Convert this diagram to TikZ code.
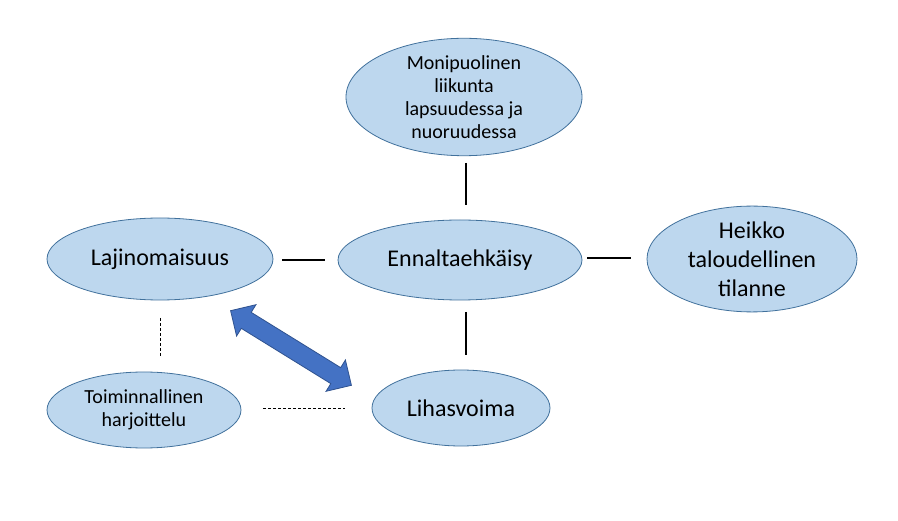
\documentclass[tikz,border=0pt]{standalone}
\usepackage{fontspec}
\setmainfont{Carlito}
\usetikzlibrary{shapes.geometric,shapes.arrows}
\definecolor{efill}{HTML}{BDD7EE}
\definecolor{eline}{HTML}{41719C}
\definecolor{arrfill}{HTML}{4472C4}
\definecolor{arrline}{HTML}{2F528F}
\begin{document}
\begin{tikzpicture}[x=1pt,y=-1pt,
  bub/.style={ellipse,draw=eline,fill=efill,line width=0.8pt,inner sep=0pt,align=center,text=black},
  conn/.style={line width=1.2pt,black},
  dconn/.style={line width=0.7pt,black,dashed,dash pattern=on 3pt off 2pt}]
\useasboundingbox[fill=white] (0,0) rectangle (898,521);
\node[bub,minimum width=236,minimum height=104,font=\fontsize{20}{23}\selectfont] (top) at (464,97) {Monipuolinen\\liikunta\\lapsuudessa ja\\nuoruudessa};
\node[bub,minimum width=244,minimum height=80,font=\fontsize{24}{28}\selectfont] (enn) at (460,260) {Ennaltaehkäisy};
\node[bub,minimum width=226,minimum height=82,font=\fontsize{24}{28}\selectfont] (laj) at (160,259) {Lajinomaisuus};
\node[bub,minimum width=210,minimum height=88,font=\fontsize{24}{29}\selectfont] (hei) at (752,259) {Heikko\\taloudellinen\\tilanne};
\node[bub,minimum width=194,minimum height=76,font=\fontsize{20}{23}\selectfont] (toi) at (144,410) {Toiminnallinen\\harjoittelu};
\node[bub,minimum width=178,minimum height=76,font=\fontsize{24}{28}\selectfont] (lih) at (461,408) {Lihasvoima};
\coordinate (a1) at (466,163); \coordinate (a2) at (466,205);
\coordinate (b1) at (282,260); \coordinate (b2) at (325,260);
\coordinate (c1) at (587,258); \coordinate (c2) at (631,258);
\coordinate (d1) at (466,312); \coordinate (d2) at (466,355);
\coordinate (e1) at (160,318); \coordinate (e2) at (160,356);
\coordinate (f1) at (263,408); \coordinate (f2) at (345,408);
\draw[conn] (a1) -- (a2);
\draw[conn] (b1) -- (b2);
\draw[conn] (c1) -- (c2);
\draw[conn] (d1) -- (d2);
\draw[dconn] (e1) -- (e2);
\draw[dconn] (f1) -- (f2);
\node[double arrow,fill=arrfill,draw=arrline,line width=0.8pt,minimum width=36,minimum height=142,inner xsep=0pt,inner ysep=9pt,text height=0pt,text depth=0pt,double arrow head extend=9pt,rotate=-31.7] (arr) at (291,348) {};
\end{tikzpicture}
\end{document}
